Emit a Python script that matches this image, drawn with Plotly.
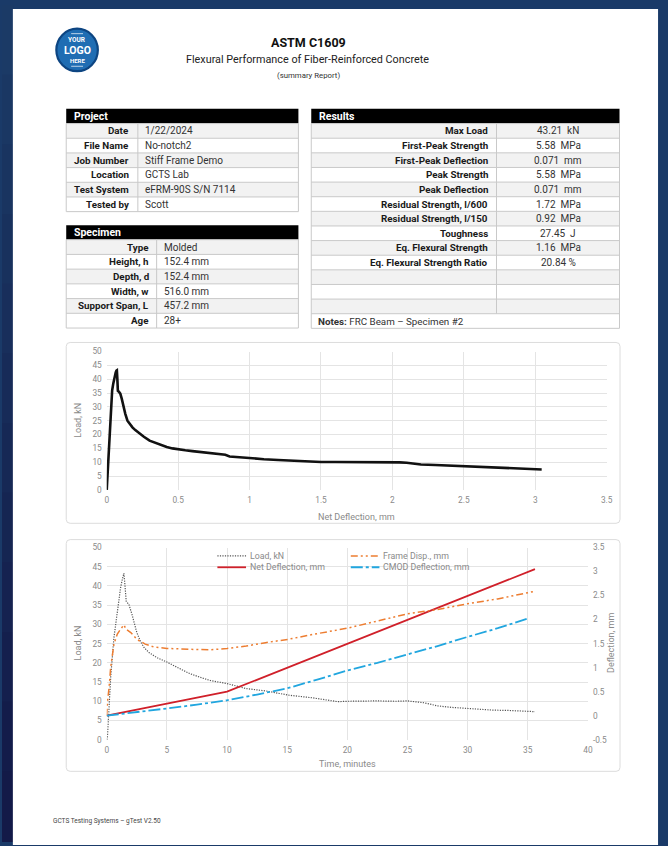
import plotly.graph_objects as go

W, H = 668, 846
FONT = "Roboto"

# ---------------- data ----------------
project_labels = ["Date", "File Name", "Job Number", "Location", "Test System", "Tested by"]
project_values = ["1/22/2024", "No-notch2", "Stiff Frame Demo", "GCTS Lab", "eFRM-90S S/N 7114", "Scott"]

specimen_labels = ["Type", "Height, h", "Depth, d", "Width, w", "Support Span, L", "Age"]
specimen_values = ["Molded", "152.4 mm", "152.4 mm", "516.0 mm", "457.2 mm", "28+"]

results_labels = ["Max Load", "First-Peak Strength", "First-Peak Deflection", "Peak Strength",
                  "Peak Deflection", "Residual Strength, l/600", "Residual Strength, l/150",
                  "Toughness", "Eq. Flexural Strength", "Eq. Flexural Strength Ratio", "", "", ""]
results_values = ["43.21  kN", "5.58  MPa", "0.071  mm", "5.58  MPa", "0.071  mm", "1.72  MPa",
                  "0.92  MPa", "27.45  J", "1.16  MPa", "20.84 %", "", "", ""]
notes_text = "FRC Beam – Specimen #2"

# Chart 1: load vs net deflection
net_defl = [0, 0.005, 0.01, 0.018, 0.028, 0.038, 0.046, 0.053, 0.058, 0.063, 0.068, 0.071,
            0.074, 0.078, 0.085, 0.095, 0.105, 0.115, 0.13, 0.145, 0.16, 0.18, 0.2, 0.23,
            0.26, 0.3, 0.34, 0.38, 0.42, 0.46, 0.5, 0.55, 0.6, 0.65, 0.7, 0.75, 0.8, 0.83,
            0.86, 0.9, 1.0, 1.1, 1.2, 1.3, 1.4, 1.5, 1.6, 1.7, 1.8, 1.9, 2.0, 2.05, 2.1,
            2.15, 2.2, 2.3, 2.4, 2.5, 2.6, 2.7, 2.8, 2.9, 3.0, 3.045]
load_defl = [0, 5, 10, 20, 30, 36, 38.5, 40.5, 41.5, 42.5, 43.1, 43.2,
             40.5, 35.8, 35.5, 34.8, 33.0, 30.5, 27.5, 25.0, 23.8, 22.6, 21.6, 20.3,
             19.2, 17.8, 17.0, 16.2, 15.5, 15.0, 14.6, 14.3, 14.0, 13.7, 13.5, 13.2, 12.9, 12.7,
             12.1, 11.9, 11.4, 11.1, 10.8, 10.5, 10.2, 10.1, 10.1, 10.1, 10.0, 10.0, 10.0, 9.95, 9.8,
             9.5, 9.2, 9.0, 8.8, 8.5, 8.2, 7.95, 7.75, 7.6, 7.5, 7.4]

# Chart 2: time histories
t_load = [0, 0.05, 0.15, 0.33, 0.6, 0.88, 1.15, 1.3, 1.43, 1.52, 1.62, 1.84, 2.1, 2.5, 2.8,
          3.1, 3.5, 4.2, 5, 6, 6.9, 7.8, 8.6, 10, 11.6, 13.2, 15.1, 17.1, 18.4, 19.2, 20,
          21, 22.5, 24, 25, 26.4, 27.5, 28.7, 30, 31, 32.1, 33.5, 35, 35.6]
load_time = [0, 0.3, 6, 16.3, 26.6, 33.9, 39.5, 41.8, 43.3, 40, 36, 35.2, 32.6, 27.9, 25.6,
             24.0, 22.7, 21.3, 20.2, 18.6, 17.2, 16.2, 15.4, 14.6, 13.3, 12.7, 11.6, 10.9, 10.3, 9.9, 10.0,
             10.05, 10.1, 10.0, 10.1, 9.6, 8.8, 8.4, 8.1, 7.9, 7.7, 7.6, 7.5, 7.3]

t_frame = [0, 0.05, 0.2, 0.33, 0.6, 0.88, 1.15, 1.43, 1.6, 2.0, 2.5, 3.2, 3.9, 5, 7.2, 8.6,
           10, 11.6, 13.2, 15.1, 17.1, 19.2, 20, 22.5, 25, 27.5, 30, 32.5, 35.6]
frame_disp = [0, 0.26, 0.6, 1.01, 1.49, 1.7, 1.8, 1.89, 1.8, 1.73, 1.59, 1.49, 1.43, 1.40, 1.38, 1.37,
              1.40, 1.45, 1.52, 1.59, 1.69, 1.78, 1.82, 1.97, 2.12, 2.21, 2.33, 2.43, 2.59]

t_net = [0, 10, 35.6]
net_time = [0, 0.5, 3.05]

t_cmod = [0, 2.5, 5, 7.5, 10, 12.5, 15, 17.5, 20, 22.5, 25, 27.5, 30, 32.5, 35]
cmod = [0, 0.07, 0.15, 0.23, 0.32, 0.44, 0.57, 0.75, 0.94, 1.1, 1.27, 1.45, 1.64, 1.82, 2.02]

left_ticks = [0, 5, 10, 15, 20, 25, 30, 35, 40, 45, 50]
right_ticks = [-0.5, 0, 0.5, 1, 1.5, 2, 2.5, 3, 3.5]
right_tick_text = ["-0.5", "0", "0.5", "1", "1.5", "2", "2.5", "3", "3.5"]

legend_names = ["Load, kN", "Net Deflection, mm", "Frame Disp., mm", "CMOD Deflection, mm"]
C_LOAD, C_NET, C_FRAME, C_CMOD = "#555555", "#d0202a", "#ed7d31", "#21a6df"
D_LOAD, D_NET, D_FRAME, D_CMOD = "1.2px,1.3px", "solid", "7px,3px,2px,3px,2px,3px", "12px,3px,3px,3px"

# ---------------- helpers ----------------
def X(px):
    return px / W

def Y(py):
    return 1 - py / H

shapes = []
ann = []

def rect(x0, y0, x1, y1, fill=None, line=None, lw=1):
    shapes.append(dict(type="rect", xref="paper", yref="paper", layer="below",
                       x0=X(x0), x1=X(x1), y0=Y(y1), y1=Y(y0),
                       fillcolor=fill if fill else "rgba(0,0,0,0)",
                       line=dict(color=line if line else "rgba(0,0,0,0)", width=lw if line else 0)))

def hline(x0, x1, y, color, lw=1, dash="solid", layer="below"):
    shapes.append(dict(type="line", xref="paper", yref="paper", layer=layer,
                       x0=X(x0), x1=X(x1), y0=Y(y), y1=Y(y),
                       line=dict(color=color, width=lw, dash=dash)))

def vline(x, y0, y1, color, lw=1):
    shapes.append(dict(type="line", xref="paper", yref="paper", layer="below",
                       x0=X(x), x1=X(x), y0=Y(y0), y1=Y(y1), line=dict(color=color, width=lw)))

def text(x, y, s, size=8.5, color="#222", anchor="left", bold=False, family=FONT):
    if bold and s:
        s = "<b>" + s + "</b>"
    ann.append(dict(xref="paper", yref="paper", x=X(x), y=Y(y), text=s, showarrow=False,
                    xanchor=anchor, yanchor="middle",
                    font=dict(size=size, color=color, family=family)))

def rounded(x0, y0, x1, y1, r, color):
    pts = (f"M {X(x0+r)},{Y(y0)} L {X(x1-r)},{Y(y0)} Q {X(x1)},{Y(y0)} {X(x1)},{Y(y0+r)} "
           f"L {X(x1)},{Y(y1-r)} Q {X(x1)},{Y(y1)} {X(x1-r)},{Y(y1)} "
           f"L {X(x0+r)},{Y(y1)} Q {X(x0)},{Y(y1)} {X(x0)},{Y(y1-r)} "
           f"L {X(x0)},{Y(y0+r)} Q {X(x0)},{Y(y0)} {X(x0+r)},{Y(y0)} Z")
    shapes.append(dict(type="path", xref="paper", yref="paper", layer="below", path=pts,
                       fillcolor="white", line=dict(color=color, width=1)))

# ---------------- page ----------------
n = 12
for i in range(n):
    f = i / (n - 1)
    r = int(0x1b + (0x13 - 0x1b) * f); g = int(0x3a + (0x1a - 0x3a) * f); b = int(0x66 + (0x48 - 0x66) * f)
    rect(0, H * i / n, 12, H * (i + 1) / n + 1, fill=f"rgb({r},{g},{b})")
rect(11, 4, 664, 850, fill="white")

# logo
shapes.append(dict(type="circle", xref="paper", yref="paper", layer="below",
                   x0=X(55), x1=X(97), y0=Y(67), y1=Y(24),
                   fillcolor="#1f6db3", line=dict(color="#0d4582", width=2.2)))
hline(70, 82, 29, "rgba(255,255,255,0.7)", 1)
hline(70, 82, 62, "rgba(255,255,255,0.7)", 1)
text(76, 35.5, "YOUR", 6.5, "white", "center", True)
text(76, 46, "LOGO", 10.5, "white", "center", True)
text(76, 56, "HERE", 6, "white", "center", True)

# titles
text(310, 38, "ASTM C1609", 12.5, "#111", "center", True)
text(309.5, 55, "Flexural Performance of Fiber-Reinforced Concrete", 10.8, "#222", "center")
text(310, 71.5, "(summary Report)", 7.8, "#333", "center")

BORDER = "#c9c9c9"
ALT = "#f2f2f2"

def table(x0, x1, y_head, y_rows, rowh, title, labels, values, xdiv, lab_x, val_x, val_anchor,
          notes=None):
    rect(x0, y_head, x1, y_rows, fill="black")
    text(x0 + 6, (y_head + y_rows) / 2, title, 10.5, "white", "left", True)
    nrows = len(labels) + (1 if notes else 0)
    y_end = y_rows + nrows * rowh
    for i in range(nrows):
        ya = y_rows + i * rowh
        if i % 2 == 0 and i < len(labels):
            rect(x0, ya, x1, ya + rowh, fill=ALT)
    for i in range(1, nrows):
        hline(x0, x1, y_rows + i * rowh, BORDER)
    vline(xdiv, y_rows, y_rows + len(labels) * rowh, BORDER)
    rect(x0, y_rows, x1, y_end, line=BORDER, lw=1)
    for i, (lab, val) in enumerate(zip(labels, values)):
        yc = y_rows + (i + 0.5) * rowh
        text(lab_x, yc, lab, 9.8, "#1a1a1a", "right", True)
        text(val_x, yc, val, 10, "#333", val_anchor)
    if notes:
        yc = y_rows + (len(labels) + 0.5) * rowh
        ann.append(dict(xref="paper", yref="paper", x=X(x0 + 5), y=Y(yc),
                        text="<b>Notes:</b> " + notes, showarrow=False, xanchor="left",
                        yanchor="middle", font=dict(size=9.8, color="#333", family=FONT)))

table(65, 300, 105, 120, 14.85, "Project", project_labels, project_values, 137.5, 131, 142.5, "left")
table(65, 300, 223, 237.5, 14.9, "Specimen", specimen_labels, specimen_values, 156.5, 150.5, 161.5, "left")
table(313, 625, 105, 120, 14.8, "Results", results_labels, results_values, 500.5, 493.5, 563, "center",
      notes=notes_text)

# chart frames
rounded(65, 341.5, 625.5, 524.5, 4, "#dcdcdc")
rounded(65, 541, 625.5, 775.5, 4, "#dcdcdc")

# footer
text(50, 826, "GCTS Testing Systems – gTest V2.50", 6.5, "#444", "left")

# axis titles
AX_C = "#8a8a8a"
ann.append(dict(xref="paper", yref="paper", x=X(77), y=Y(420.7), text="Load, kN", showarrow=False,
                textangle=-90, xanchor="center", yanchor="middle", font=dict(size=9, color=AX_C, family=FONT)))
text(359, 518, "Net Deflection, mm", 9, AX_C, "center")
ann.append(dict(xref="paper", yref="paper", x=X(77), y=Y(646), text="Load, kN", showarrow=False,
                textangle=-90, xanchor="center", yanchor="middle", font=dict(size=9, color=AX_C, family=FONT)))
ann.append(dict(xref="paper", yref="paper", x=X(617), y=Y(646), text="Deflection, mm", showarrow=False,
                textangle=-90, xanchor="center", yanchor="middle", font=dict(size=9, color=AX_C, family=FONT)))
text(349.5, 768, "Time, minutes", 9, AX_C, "center")

# manual legend for chart 2
leg = [(legend_names[0], C_LOAD, D_LOAD, 1.2, 218, 557.5),
       (legend_names[1], C_NET, D_NET, 1.8, 218, 569),
       (legend_names[2], C_FRAME, D_FRAME, 1.5, 353, 557.5),
       (legend_names[3], C_CMOD, D_CMOD, 1.8, 353, 569)]
for name, col, dash, lw, lx, ly in leg:
    hline(lx, lx + 29, ly, col, lw, dash, layer="above")
    text(lx + 31, ly, name, 8.8, AX_C, "left")

# ---------------- traces ----------------
fig = go.Figure()
fig.add_trace(go.Scatter(x=net_defl, y=load_defl, mode="lines", xaxis="x", yaxis="y",
                         line=dict(color="#111", width=2.6), showlegend=False))
fig.add_trace(go.Scatter(x=t_load, y=load_time, mode="lines", xaxis="x2", yaxis="y2", name=legend_names[0],
                         line=dict(color=C_LOAD, width=1.2, dash=D_LOAD), showlegend=False))
fig.add_trace(go.Scatter(x=t_net, y=net_time, mode="lines", xaxis="x2", yaxis="y3", name=legend_names[1],
                         line=dict(color=C_NET, width=1.8, dash=D_NET), showlegend=False))
fig.add_trace(go.Scatter(x=t_frame, y=frame_disp, mode="lines", xaxis="x2", yaxis="y3", name=legend_names[2],
                         line=dict(color=C_FRAME, width=1.5, dash=D_FRAME), showlegend=False))
fig.add_trace(go.Scatter(x=t_cmod, y=cmod, mode="lines", xaxis="x2", yaxis="y3", name=legend_names[3],
                         line=dict(color=C_CMOD, width=1.8, dash=D_CMOD), showlegend=False))

GRID = "#e4e4e4"
tickfont = dict(size=8.3, color=AX_C, family=FONT)
common = dict(showgrid=True, gridcolor=GRID, gridwidth=1, zeroline=False, showline=False,
              ticks="", tickfont=tickfont, ticklabelstandoff=4, fixedrange=True)

fig.update_layout(
    width=W, height=H, margin=dict(l=0, r=0, t=0, b=0),
    paper_bgcolor="#1a3a68", plot_bgcolor="rgba(0,0,0,0)",
    showlegend=False,
    xaxis=dict(domain=[X(106), X(612)], range=[0, 3.5], dtick=0.5, anchor="y", **common),
    yaxis=dict(domain=[Y(490.7), Y(350.7)], range=[0, 50], tickvals=left_ticks, anchor="x", **common),
    xaxis2=dict(domain=[X(106), X(593)], range=[0, 40], dtick=5, anchor="y2", **common),
    yaxis2=dict(domain=[Y(743.5), Y(549)], range=[0, 50], tickvals=left_ticks, anchor="x2", **common),
    yaxis3=dict(overlaying="y2", side="right", anchor="x2", range=[-0.5, 3.5], tickvals=right_ticks,
                ticktext=right_tick_text, showgrid=False, zeroline=False, showline=False, ticks="",
                tickfont=tickfont, ticklabelstandoff=4, fixedrange=True),
    shapes=shapes, annotations=ann,
)

page_css = ("document.body.style.margin='0';document.body.style.padding='0';"
            "document.body.style.background='#1a3a68';"
            "document.documentElement.style.overflow='hidden';")
fig.write_html("out.html", post_script=page_css, config={"displayModeBar": False})
